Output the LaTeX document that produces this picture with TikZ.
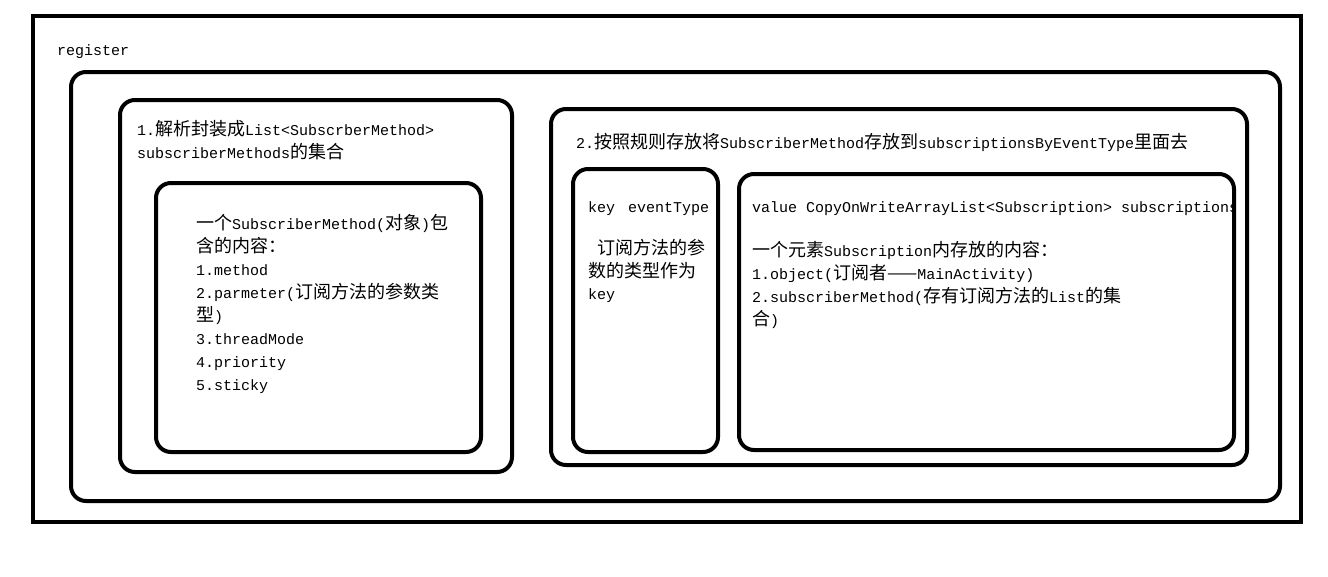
\documentclass[tikz,border=0pt]{standalone}
\usepackage{fontspec}
\setmainfont{Liberation Mono}
\newfontfamily\cjkf{Noto Sans CJK SC}[Scale=1.2]
\newcommand{\zh}[1]{{\cjkf #1}}
\begin{document}
\begin{tikzpicture}[x=1pt,y=-1pt,
  frame/.style={line width=4pt},
  rbox/.style={line width=4pt,rounded corners=15pt},
  txt/.style={anchor=base west,inner sep=0pt,font=\fontsize{15}{23}\selectfont}]
\useasboundingbox[fill=white] (0,0) rectangle (1328,576);
% outer frame
\draw[frame] (33,16) rectangle (1301,522);
\node[txt] (reg) at (57,55) {register};
% boxes
\draw[rbox] (71,72) rectangle (1280,501);
\draw[rbox] (120,100) rectangle (512,472);
\draw[rbox] (156,183) rectangle (481,452);
\draw[rbox] (551,109) rectangle (1247,465);
\draw[rbox] (573,169) rectangle (718,452);
\draw[rbox] (739,174) rectangle (1234,450);
% box B text
\node[txt] (b1) at (137,135) {1.\zh{解析封装成}List<SubscrberMethod>};
\node[txt] (b2) at (137,158) {subscriberMethods\zh{的集合}};
% box C text
\node[txt] (c1) at (196,229) {\zh{一个}SubscriberMethod(\zh{对象})\zh{包}};
\node[txt] (c2) at (196,252) {\zh{含的内容：}};
\node[txt] (c3) at (196,275) {1.method};
\node[txt] (c4) at (196,298) {2.parmeter(\zh{订阅方法的参数类}};
\node[txt] (c5) at (196,321) {\zh{型})};
\node[txt] (c6) at (196,344) {3.threadMode};
\node[txt] (c7) at (196,367) {4.priority};
\node[txt] (c8) at (196,390) {5.sticky};
% box D title
\node[txt] (d1) at (576,148) {2.\zh{按照规则存放将}SubscriberMethod\zh{存放到}subscriptionsByEventType\zh{里面去}};
% key box
\node[txt] (e1) at (588,212) {key};
\node[txt] (e2) at (628,212) {eventType};
\node[txt] (e3) at (597,254) {\zh{订阅方法的参}};
\node[txt] (e4) at (588,277) {\zh{数的类型作为}};
\node[txt] (e5) at (588,299) {key};
% value box
\begin{scope}
\clip (741,176) rectangle (1232,448);
\node[txt] (f1) at (752,212) {value CopyOnWriteArrayList<Subscription> subscriptions};
\end{scope}
\node[txt] (f2) at (752,256) {\zh{一个元素}Subscription\zh{内存放的内容：}};
\node[txt] (f3) at (752,279) {1.object(\zh{订阅者——}MainActivity)};
\node[txt] (f4) at (752,302) {2.subscriberMethod(\zh{存有订阅方法的}List\zh{的集}};
\node[txt] (f5) at (752,325) {\zh{合})};
\end{tikzpicture}
\end{document}
